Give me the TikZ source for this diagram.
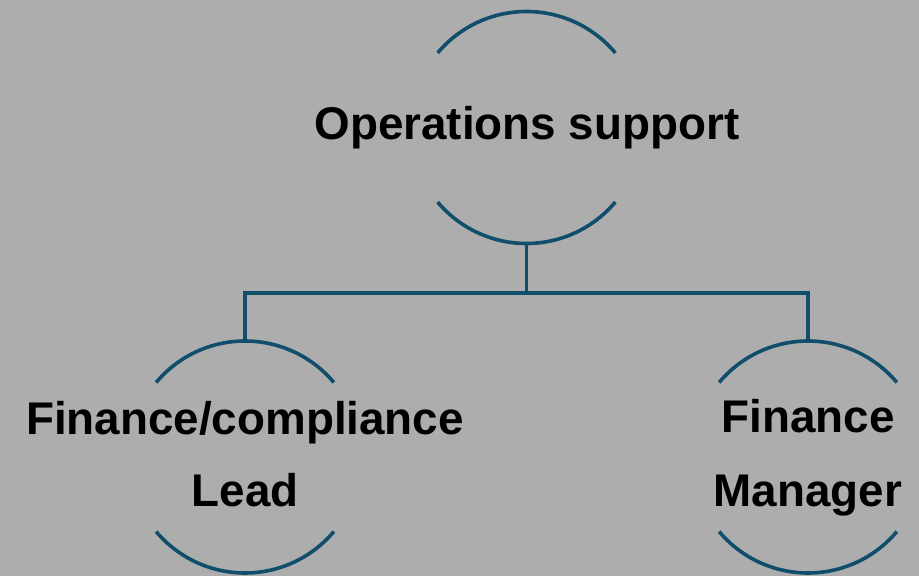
\documentclass[tikz,border=0pt]{standalone}
\usepackage{fontspec}
\setmainfont{Liberation Sans}
\begin{document}
\begin{tikzpicture}[x=1pt,y=1pt,
  linkcol/.style={draw=orgblue,line width=3.6pt},
  unitcircle/.style={circle,minimum size=232pt,inner sep=0pt,outer sep=0pt},
  unitlabel/.style={font=\bfseries\fontsize{45.8}{72}\selectfont,text=black,align=center,inner sep=0pt}]
\definecolor{orgblue}{RGB}{16,78,107}
\definecolor{bggray}{RGB}{173,173,173}
% canvas
\fill[bggray] (0,0) rectangle (919,576);
\useasboundingbox (0,0) rectangle (919,576);

% unit outlines (only top and bottom arcs are drawn)
\node[unitcircle] (ops) at (526.5,448.5) {};
\node[unitcircle] (fcl) at (245,119) {};
\node[unitcircle] (fm)  at (808,119) {};

\foreach \u in {ops,fcl,fm}{
  \draw[linkcol] (\u.40) arc[start angle=40,end angle=140,radius=116pt];
  \draw[linkcol] (\u.220) arc[start angle=220,end angle=320,radius=116pt];
}

% labels
\node[unitlabel,anchor=base] (opsT) at (527,436) {Operations support};
\node[unitlabel,anchor=base] (fclA) at (245,141) {Finance/compliance};
\node[unitlabel,anchor=base] (fclB) at (245,69) {Lead};
\node[unitlabel,anchor=base] (fmA) at (808,143) {Finance};
\node[unitlabel,anchor=base] (fmB) at (808,69) {Manager};

% reporting lines
\coordinate (bus) at ([yshift=-49.5pt]ops.south);
\draw[linkcol,line cap=rect] (ops.south) -- (bus);
\draw[linkcol] (bus) -| (fcl.north);
\draw[linkcol] (bus) -| (fm.north);
\end{tikzpicture}
\end{document}
